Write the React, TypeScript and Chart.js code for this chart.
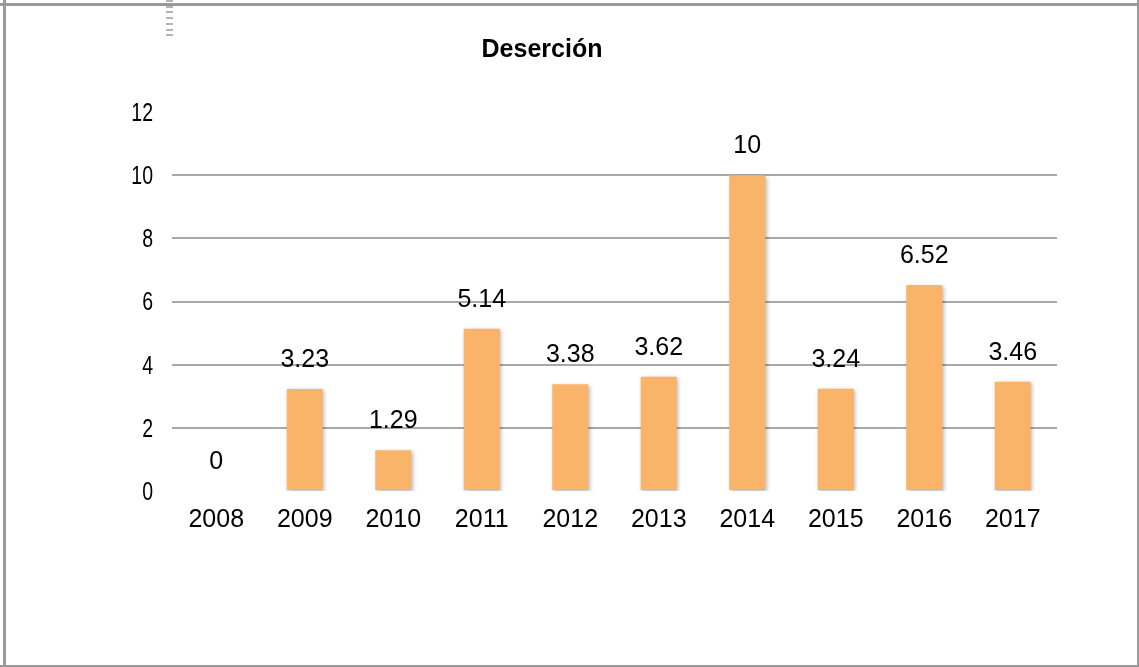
import React, { useEffect, useRef } from "react";
import { Chart, registerables } from "chart.js";

Chart.register(...registerables);

const categories = ["2008", "2009", "2010", "2011", "2012", "2013", "2014", "2015", "2016", "2017"];
const values = [0, 3.23, 1.29, 5.14, 3.38, 3.62, 10, 3.24, 6.52, 3.46];
const valueLabels = ["0", "3.23", "1.29", "5.14", "3.38", "3.62", "10", "3.24", "6.52", "3.46"];
const yTicks = [0, 2, 4, 6, 8, 10, 12];
const titleText = "Deserción";

const W = 1139;
const H = 667;

const shadowPlugin = {
  id: "barShadow",
  beforeDatasetDraw(chart: any) {
    const ctx = chart.ctx;
    ctx.save();
    ctx.shadowColor = "rgba(0,0,0,0.28)";
    ctx.shadowBlur = 4;
    ctx.shadowOffsetX = 1.5;
    ctx.shadowOffsetY = 1.5;
  },
  afterDatasetDraw(chart: any) {
    chart.ctx.restore();
  },
};

const labelPlugin = {
  id: "valueLabels",
  afterDatasetsDraw(chart: any) {
    const ctx = chart.ctx;
    const meta = chart.getDatasetMeta(0);
    ctx.save();
    ctx.font = "25px 'Liberation Sans', Arial, sans-serif";
    ctx.fillStyle = "#000";
    ctx.textAlign = "center";
    ctx.textBaseline = "middle";
    meta.data.forEach((bar: any, i: number) => {
      ctx.fillText(valueLabels[i], bar.x, bar.y - 29);
    });
    ctx.restore();
  },
};

// Condensed y-axis tick labels (narrow face emulated by horizontal scaling)
const yLabelPlugin = {
  id: "narrowYLabels",
  afterDraw(chart: any) {
    const ctx = chart.ctx;
    const ys = chart.scales.y;
    const right = chart.chartArea.left - 19;
    ctx.save();
    ctx.font = "25px 'Liberation Sans', Arial, sans-serif";
    ctx.fillStyle = "#000";
    ctx.textAlign = "right";
    ctx.textBaseline = "middle";
    yTicks.forEach((v) => {
      const y = ys.getPixelForValue(v) + 2;
      ctx.save();
      ctx.translate(right, y);
      ctx.scale(0.78, 1);
      ctx.fillText(String(v), 0, 0);
      ctx.restore();
    });
    ctx.restore();
  },
};

export default function App() {
  const ref = useRef<HTMLCanvasElement | null>(null);

  useEffect(() => {
    if (!ref.current) return;
    const chart = new Chart(ref.current, {
      type: "bar",
      data: {
        labels: categories,
        datasets: [
          {
            data: values,
            backgroundColor: "#FAB46A",
            borderWidth: 0,
            categoryPercentage: 1,
            barPercentage: 0.407,
          },
        ],
      },
      options: {
        responsive: false,
        animation: false,
        devicePixelRatio: 1,
        layout: { padding: { left: 27, right: 82, top: 0, bottom: 118 } },
        plugins: {
          legend: { display: false },
          tooltip: { enabled: false },
          title: {
            display: true,
            text: titleText,
            color: "#000",
            font: { family: "'Liberation Sans', Arial, sans-serif", size: 25, weight: "bold", lineHeight: 1.2 },
            padding: { top: 35, bottom: 47 },
          },
        },
        scales: {
          x: {
            grid: { display: false, drawTicks: false },
            border: { display: false },
            ticks: {
              color: "#000",
              padding: 14,
              font: { family: "'Liberation Sans', Arial, sans-serif", size: 25, lineHeight: 1.2 },
            },
          },
          y: {
            min: 0,
            max: 12,
            afterFit: (scale: any) => {
              scale.width = 145;
            },
            afterBuildTicks: (scale: any) => {
              scale.ticks = yTicks.map((v) => ({ value: v }));
            },
            grid: {
              drawTicks: false,
              lineWidth: 2,
              color: (c: any) =>
                c.tick && (c.tick.value === 0 || c.tick.value === 12) ? "rgba(0,0,0,0)" : "#A8A8A8",
            },
            border: { display: false },
            ticks: {
              display: false,
            },
          },
        },
      },
      plugins: [shadowPlugin, labelPlugin, yLabelPlugin],
    });
    return () => chart.destroy();
  }, []);

  const dashes = [];
  for (let i = 0; i < 7; i++) {
    dashes.push(
      <div
        key={i}
        style={{ position: "absolute", left: 166, top: i * 5.7, width: 7, height: 2, background: "#b4b4b4" }}
      />
    );
  }

  return (
    <div style={{ position: "fixed", left: 0, top: 0, width: W, height: H, background: "#fff", overflow: "hidden" }}>
      <canvas ref={ref} width={W} height={H} style={{ position: "absolute", left: 0, top: 0, width: W, height: H }} />
      <div style={{ position: "absolute", left: 0, top: 3, width: W, height: 3, background: "#999" }} />
      <div style={{ position: "absolute", left: 3, top: 0, width: 3, height: H, background: "#999" }} />
      <div style={{ position: "absolute", left: 1137, top: 0, width: 2, height: H, background: "#999" }} />
      <div style={{ position: "absolute", left: 0, top: 665, width: W, height: 2, background: "#999" }} />
      {dashes}
    </div>
  );
}
